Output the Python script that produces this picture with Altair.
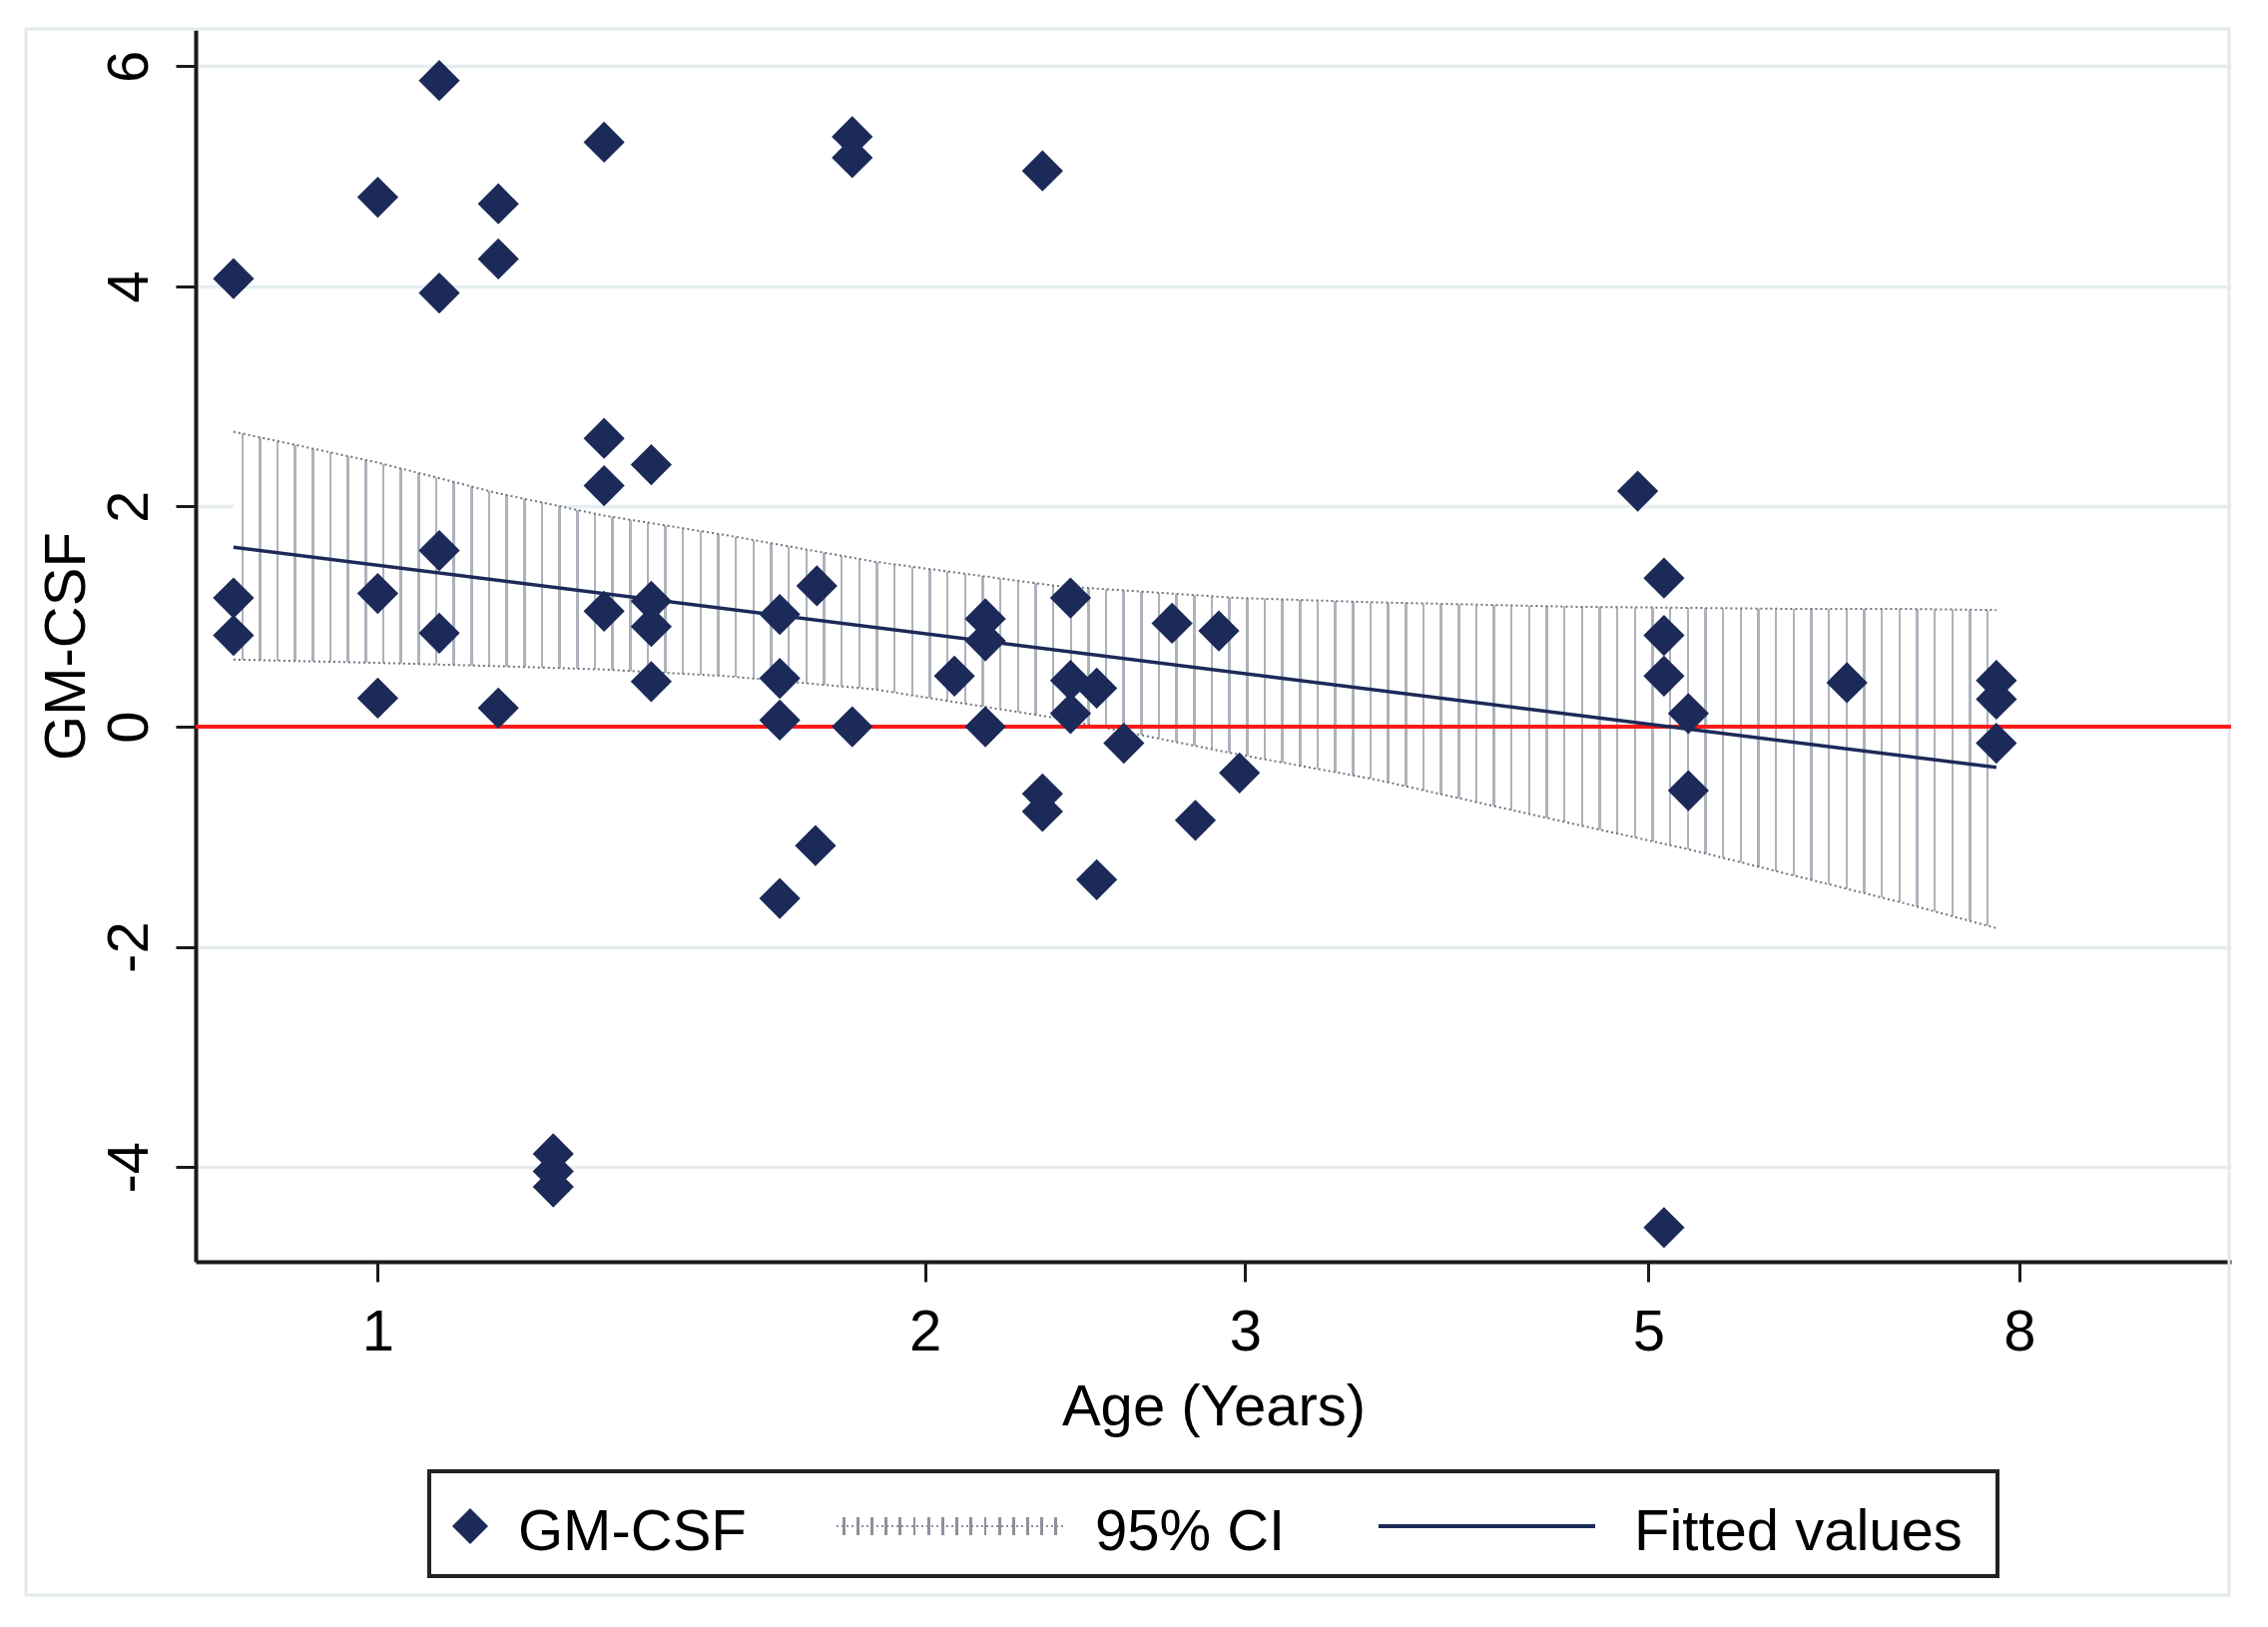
import altair as alt
import pandas as pd

# ---------------- data ----------------
AGE = [1.081, 1.332, 1.824, 1.824, 1.0, 1.165, 1.165, 0.833, 1.081, 1.332,
       1.414, 1.332, 1.081, 0.833, 1.0, 1.332, 1.414, 1.414, 1.664, 1.744,
       0.833, 1.081, 1.0, 1.165, 1.414, 1.664, 1.664, 1.824, 1.741, 1.664,
       1.249, 1.249, 1.249,
       2.321, 2.159, 2.159, 2.405, 2.735, 2.902, 2.076, 2.405, 2.486, 2.405,
       2.159, 2.573, 2.979, 2.321, 2.321, 2.817, 2.486,
       4.933, 5.10, 5.10, 5.10, 5.26, 5.26, 6.43, 7.77, 7.77, 7.77, 5.10]
GMCSF = [5.87, 5.31, 5.36, 5.17, 4.81, 4.75, 4.25, 4.07, 3.94, 2.62,
         2.38, 2.19, 1.60, 1.17, 1.21, 1.05, 1.14, 0.91, 1.02, 1.28,
         0.83, 0.85, 0.26, 0.17, 0.41, 0.44, 0.06, 0.00, -1.08, -1.56,
         -3.88, -4.04, -4.18,
         5.05, 0.98, 0.78, 1.17, 0.94, 0.87, 0.46, 0.42, 0.35, 0.12,
         0.00, -0.15, -0.42, -0.61, -0.77, -0.85, -1.39,
         2.14, 1.35, 0.83, 0.46, 0.12, -0.58, 0.40, 0.42, 0.25, -0.15, -4.55]

CI_AGE = [0.833, 1.0, 1.165, 1.33, 1.555, 1.875, 2.36, 2.97, 3.54, 4.54, 5.25, 6.04, 6.94, 7.77]
CI_UPPER = [2.68, 2.40, 2.12, 1.92, 1.74, 1.50, 1.28, 1.17, 1.13, 1.09, 1.08, 1.07, 1.07, 1.06]
CI_LOWER = [0.61, 0.58, 0.55, 0.52, 0.46, 0.34, 0.08, -0.25, -0.48, -0.88, -1.11, -1.36, -1.61, -1.83]

FIT_AGE = [0.833, 7.77]
FIT_VALUE = [1.63, -0.37]

X_TICKS = [1, 2, 3, 5, 8]
Y_TICKS = [-4, -2, 0, 2, 4, 6]
LEGEND_LABELS = ["GM-CSF", "95% CI", "Fitted values"]

# ---------------- styling ----------------
W, H = 2039, 1234
FONT = "Liberation Sans"
NAVY = "#1b2a58"
AXIS_C = "#1a1a1a"
GRID_C = "#e6edf0"
FS = 58

points_df = pd.DataFrame({"age": AGE, "gmcsf": GMCSF})
ci_df = pd.DataFrame({"age": CI_AGE, "upper": CI_UPPER, "lower": CI_LOWER})
fit_df = pd.DataFrame({"age": FIT_AGE, "fit": FIT_VALUE})


def stripe_gradient(n, frac, color, bg):
    stops = [alt.GradientStop(offset=0, color=bg)]
    for i in range(n):
        a = (i + 0.5 - frac / 2) / n
        b = (i + 0.5 + frac / 2) / n
        stops += [alt.GradientStop(offset=a, color=bg),
                  alt.GradientStop(offset=a, color=color),
                  alt.GradientStop(offset=b, color=color),
                  alt.GradientStop(offset=b, color=bg)]
    stops.append(alt.GradientStop(offset=1, color=bg))
    return alt.LinearGradient(gradient="linear", stops=stops, x1=0, x2=1, y1=0, y2=0)


x_scale = alt.Scale(type="log", domain=[0.794, 10.46], nice=False)
y_scale = alt.Scale(domain=[-4.86, 6.33], nice=False, zero=False)

x_axis = alt.Axis(values=X_TICKS, format="d", title="Age (Years)",
                  labelFont=FONT, labelFontSize=FS, labelColor="black",
                  titleFont=FONT, titleFontSize=FS, titleFontWeight="normal", titleColor="black",
                  tickSize=20, tickWidth=3, tickColor=AXIS_C,
                  domainColor=AXIS_C, domainWidth=4,
                  labelPadding=22, labelFlush=False, labelOverlap=False,
                  grid=False, titleBaseline="alphabetic", titleY=163)

y_axis = alt.Axis(values=Y_TICKS, title="GM-CSF",
                  labelExpr="datum.value < 0 ? '-' + toString(-datum.value) : toString(datum.value)",
                  labelFont=FONT, labelFontSize=FS, labelColor="black",
                  labelAngle=270, labelAlign="center", labelBaseline="alphabetic",
                  labelPadding=29, labelFlush=False, labelOverlap=False,
                  titleFont=FONT, titleFontSize=FS, titleFontWeight="normal", titleColor="black",
                  titleAngle=270, titleAlign="center", titleBaseline="alphabetic",
                  titleX=-112, titleY=H / 2,
                  tickSize=20, tickWidth=3, tickColor=AXIS_C,
                  domainColor=AXIS_C, domainWidth=4,
                  grid=True, gridColor=GRID_C, gridWidth=3.5)

one = alt.Data(values=[{"k": 0}])

frame = alt.Chart(one).mark_rect(fill="white", fillOpacity=0, stroke="#e3eaee", strokeWidth=3).encode(
    x=alt.value(-170), x2=alt.value(2037), y=alt.value(-1), y2=alt.value(1568))

band = alt.Chart(ci_df).mark_area(
    fill=stripe_gradient(100, 0.14, "#aeb2bc", "white"), opacity=1
).encode(
    x=alt.X("age:Q", scale=x_scale, axis=x_axis),
    y=alt.Y("upper:Q", scale=y_scale, axis=y_axis),
    y2="lower:Q")

upper_line = alt.Chart(ci_df).mark_line(color="#6f737e", strokeWidth=2, strokeDash=[2, 3]).encode(
    x="age:Q", y="upper:Q")
lower_line = alt.Chart(ci_df).mark_line(color="#6f737e", strokeWidth=2, strokeDash=[2, 3]).encode(
    x="age:Q", y="lower:Q")

zero_rule = alt.Chart(one).mark_rule(color="#ff1a1a", strokeWidth=4).encode(y=alt.datum(0))

fit_line = alt.Chart(fit_df).mark_line(color=NAVY, strokeWidth=3.5).encode(x="age:Q", y="fit:Q")

pts = alt.Chart(points_df).mark_point(shape="diamond", filled=True, size=1700, color=NAVY, opacity=1).encode(
    x="age:Q", y="gmcsf:Q")

# ---------------- legend (drawn manually) ----------------
leg_box = alt.Chart(one).mark_rect(fill="white", stroke="#222222", strokeWidth=4).encode(
    x=alt.value(234), x2=alt.value(1805), y=alt.value(1444), y2=alt.value(1549))
leg_pt = alt.Chart(one).mark_point(shape="diamond", filled=True, size=1300, color=NAVY, opacity=1).encode(
    x=alt.value(275), y=alt.value(1499))
leg_ci = alt.Chart(one).mark_rect(fill=stripe_gradient(16, 0.2, "#8d919b", "white")).encode(
    x=alt.value(642), x2=alt.value(869), y=alt.value(1490), y2=alt.value(1508))
leg_ci_line = alt.Chart(one).mark_rule(color="#8a8e98", strokeWidth=2, strokeDash=[2, 3]).encode(
    x=alt.value(642), x2=alt.value(869), y=alt.value(1499))
leg_fit = alt.Chart(one).mark_rule(color=NAVY, strokeWidth=4).encode(
    x=alt.value(1185), x2=alt.value(1402), y=alt.value(1499))

text_x = [323, 901, 1441]
leg_texts = []
for lab, tx in zip(LEGEND_LABELS, text_x):
    leg_texts.append(
        alt.Chart(alt.Data(values=[{"label": lab}])).mark_text(
            font=FONT, fontSize=FS, align="left", baseline="alphabetic", color="black"
        ).encode(x=alt.value(tx), y=alt.value(1523), text="label:N"))

chart = alt.layer(
    frame, band, upper_line, lower_line, zero_rule, fit_line, pts,
    leg_box, leg_pt, leg_ci, leg_ci_line, leg_fit, *leg_texts
).properties(
    width=W, height=H,
    padding={"left": 188, "top": 22, "right": 20, "bottom": 350},
    autosize=alt.AutoSizeParams(type="none"),
    background="white",
).configure_view(stroke=None)

chart.save("out.html", embed_options={"renderer": "svg", "actions": False})
